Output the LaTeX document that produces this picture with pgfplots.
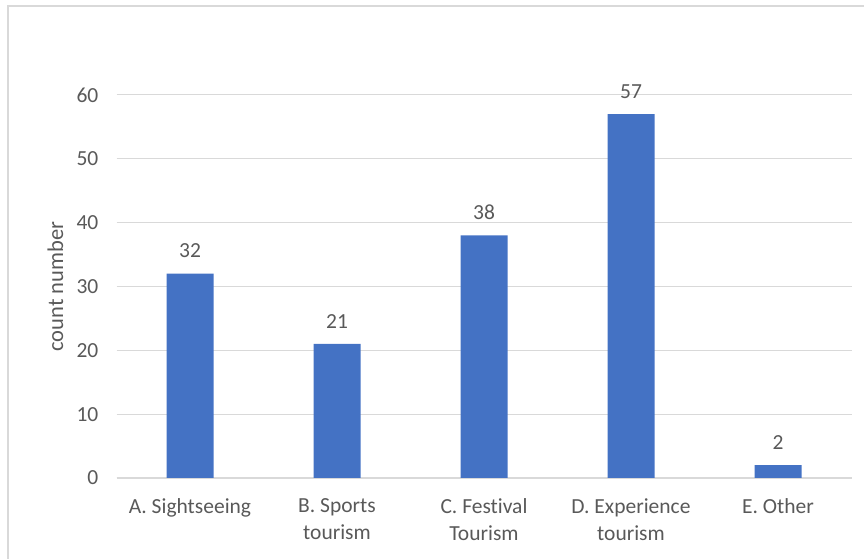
\documentclass[border=0pt]{standalone}
\usepackage{pgfplots}
\pgfplotsset{compat=1.18}
\usepackage{fontspec}
\setmainfont{Carlito}[Ligatures={NoCommon}]
\definecolor{barblue}{HTML}{4472C4}
\definecolor{txt}{HTML}{595959}
\definecolor{gridc}{HTML}{D9D9D9}
\begin{document}
\begin{tikzpicture}[x=1pt,y=1pt]
\useasboundingbox (0,0) rectangle (864,559);
\draw[gridc, line width=1.5pt] (8,0) -- (8,553) -- (864,553);
\begin{axis}[
  at={(116.5pt,81pt)}, anchor=south west,
  scale only axis, width=735pt, height=383pt,
  xmin=-0.5, xmax=4.5, ymin=0, ymax=60,
  ytick={0,10,20,30,40,50,60},
  xtick={0,1,2,3,4},
  xticklabels={{A. Sightseeing},{B. Sports\\tourism},{C. Festival\\Tourism},{D. Experience\\tourism},{E. Other}},
  axis lines*=left,
  y axis line style={draw=none},
  x axis line style={gridc, line width=1.2pt},
  major tick length=0pt,
  ymajorgrids, grid style={gridc, line width=1pt},
  /pgf/number format/assume math mode=true,
  ticklabel style={font=\fontsize{21.5}{27}\selectfont, text=txt, inner sep=0pt},
  yticklabel style={anchor=east, xshift=-18pt},
  xticklabel style={anchor=north, align=center, yshift=-20.5pt},
  ylabel={count number},
  every axis y label/.style={at={(rel axis cs:0,0.5)}, rotate=90, anchor=center, yshift=61pt, font=\fontsize{22.5}{27}\selectfont, text=txt},
  ybar, bar width=47pt,
  nodes near coords,
  nodes near coords style={font=\fontsize{21.5}{27}\selectfont, text=txt, inner sep=0pt, anchor=south, yshift=15.5pt},
]
\addplot[fill=barblue, draw=none] coordinates {(0,32) (1,21) (2,38) (3,57) (4,2)};
\end{axis}
\end{tikzpicture}
\end{document}
